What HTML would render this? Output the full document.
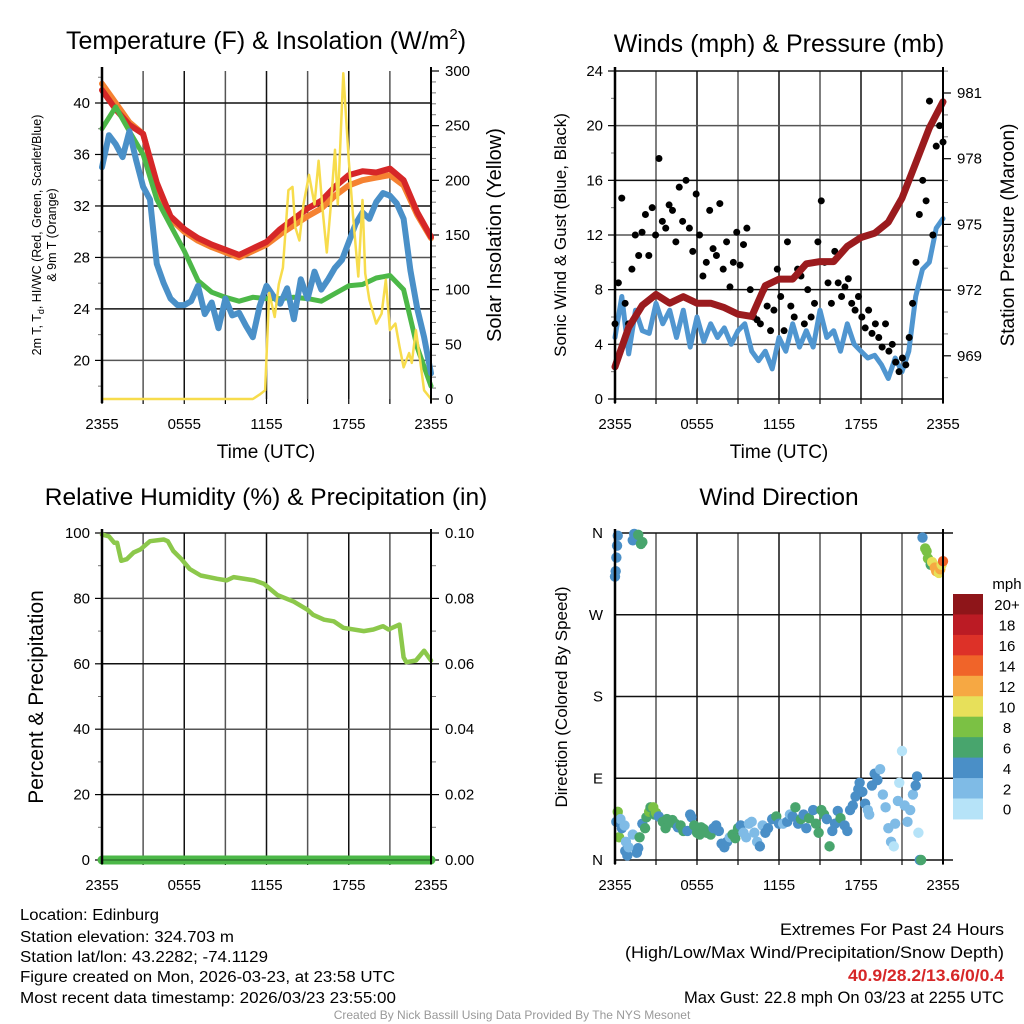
<!DOCTYPE html>
<html><head><meta charset="utf-8">
<style>
html,body{margin:0;padding:0;background:#fff;}
svg{display:block;font-family:"Liberation Sans",Arial,sans-serif;}
</style></head>
<body>
<svg id="fig" width="1024" height="1024" viewBox="0 0 1024 1024" xmlns="http://www.w3.org/2000/svg">
<rect width="1024" height="1024" fill="#fff"/>
<g id="tl"></g>
<g id="tr"></g>
<g id="bl"></g>
<g id="br"></g>

<text x="266" y="49" font-size="25" text-anchor="middle">Temperature (F) &amp; Insolation (W/m<tspan font-size="15" dy="-10">2</tspan><tspan dy="10">)</tspan></text>
<text x="779" y="52" font-size="25" text-anchor="middle">Winds (mph) &amp; Pressure (mb)</text>
<text x="266" y="505" font-size="24.5" text-anchor="middle">Relative Humidity (%) &amp; Precipitation (in)</text>
<text x="779" y="505" font-size="24.5" text-anchor="middle">Wind Direction</text>

<text x="266" y="458" font-size="19" text-anchor="middle">Time (UTC)</text>
<text x="779" y="458" font-size="19" text-anchor="middle">Time (UTC)</text>

<g font-size="12.5" text-anchor="middle">
<text transform="translate(41,235) rotate(-90)">2m T, T<tspan font-size="9" dy="3">d</tspan><tspan dy="-3">, HI/WC (Red, Green, Scarlet/Blue)</tspan></text>
<text transform="translate(56,235) rotate(-90)">&amp; 9m T (Orange)</text>
</g>
<text transform="translate(501,235) rotate(-90)" font-size="20" text-anchor="middle">Solar Insolation (Yellow)</text>
<text transform="translate(566,235) rotate(-90)" font-size="17" text-anchor="middle">Sonic Wind &amp; Gust (Blue, Black)</text>
<text transform="translate(1014,235) rotate(-90)" font-size="19" text-anchor="middle">Station Pressure (Maroon)</text>
<text transform="translate(43,697) rotate(-90)" font-size="21" text-anchor="middle">Percent &amp; Precipitation</text>
<text transform="translate(567,697) rotate(-90)" font-size="17" text-anchor="middle">Direction (Colored By Speed)</text>

<g font-size="15.5">
<text x="20" y="920" textLength="139" lengthAdjust="spacingAndGlyphs">Location: Edinburg</text>
<text x="20" y="942" textLength="214" lengthAdjust="spacingAndGlyphs">Station elevation: 324.703 m</text>
<text x="20" y="962" textLength="248" lengthAdjust="spacingAndGlyphs">Station lat/lon: 43.2282; -74.1129</text>
<text x="20" y="982" textLength="375" lengthAdjust="spacingAndGlyphs">Figure created on Mon, 2026-03-23, at 23:58 UTC</text>
<text x="20" y="1003" textLength="376" lengthAdjust="spacingAndGlyphs">Most recent data timestamp: 2026/03/23 23:55:00</text>
</g>
<g font-size="16.5" text-anchor="end">
<text x="1004" y="935" textLength="224" lengthAdjust="spacingAndGlyphs">Extremes For Past 24 Hours</text>
<text x="1004" y="958" textLength="379" lengthAdjust="spacingAndGlyphs">(High/Low/Max Wind/Precipitation/Snow Depth)</text>
<text x="1004" y="981" fill="#d62728" font-weight="bold" textLength="156" lengthAdjust="spacingAndGlyphs">40.9/28.2/13.6/0/0.4</text>
<text x="1004" y="1003" textLength="320" lengthAdjust="spacingAndGlyphs">Max Gust: 22.8 mph On 03/23 at 2255 UTC</text>
</g>
<text x="512" y="1019" font-size="12" fill="#999" text-anchor="middle">Created By Nick Bassill Using Data Provided By The NYS Mesonet</text>
</svg>
<script>
// ---------- data ----------
const hourTimes=[0,1,2,3,4,5,6,7,8,9,10,11,12,13,14,15,16,17,18,19,20,21,22,23,24];
const tempRed=[41,39.5,38.3,37.6,33.8,31.2,30.2,29.5,29.0,28.6,28.2,28.7,29.2,30.2,31.0,31.8,32.4,33.5,34.4,34.7,34.6,34.9,34.0,31.5,29.6];
const temp9m=[41.5,40.0,38.5,37.6,33.6,31.0,30.0,29.3,28.8,28.4,28.0,28.5,29.0,29.8,30.5,31.2,31.8,32.8,33.6,34.0,34.2,34.4,33.6,31.3,29.5];
const dewGreen=[38,39.7,37.8,36,32.5,30.5,28.5,26.2,25.3,24.9,24.6,24.9,24.8,24.8,24.9,24.8,24.6,25.2,25.8,25.9,26.4,26.6,25.5,21,18];
const halfTimes=[0,0.5,1,1.5,2,2.5,3,3.5,4,4.5,5,5.5,6,6.5,7,7.5,8,8.5,9,9.5,10,10.5,11,11.5,12,12.5,13,13.5,14,14.5,15,15.5,16,16.5,17,17.5,18,18.5,19,19.5,20,20.5,21,21.5,22,22.5,23,23.5,24];
const windChill=[35,37.5,36.8,35.8,37.8,35.5,33.5,32.5,27.5,26,24.8,24.3,24.3,24.6,25.8,23.6,24.5,22.5,24.8,23.5,23.7,22.7,21.8,24.2,25.8,25,24.4,25.6,23.2,26.3,24.8,26.9,25.5,26.3,27.2,27.8,29.2,30.6,31.5,31.0,32.3,33.0,32.8,32.2,31,27,24,21.8,19];
const solarTimes=[0,11.0,11.5,11.9,12.2,12.6,12.9,13.2,13.6,13.9,14.1,14.4,14.7,15.1,15.5,15.8,16.1,16.4,16.7,17.0,17.2,17.6,18.0,18.3,18.7,19.0,19.2,19.5,20.0,20.4,20.7,21.0,21.4,21.7,22.0,22.4,22.6,22.9,23.2,23.5,24];
const solarVals=[0,0,4,8,97,75,105,120,191,194,157,145,178,205,178,218,172,134,178,228,178,298,218,169,112,182,115,91,69,78,109,63,69,48,29,42,33,63,36,8,0];
const sonicWind=[4.5,7.5,3.3,6.5,5,4.8,7.0,5.5,6.5,4.5,6.5,3.8,6.0,4.2,5.5,4.5,5.2,4.0,5.0,5.5,3.5,2.8,3.5,2.2,4.5,3.5,5.5,3.8,5.0,3.8,6.5,4.5,5.0,3.5,5.5,4.0,3.5,3.0,3.2,2.5,1.5,3.0,2.0,3.5,7.5,9.5,10,12.5,13.2];
const gusts=[5.5,8.5,14.7,7,5.5,9.5,12,10.5,12.2,13.5,10.5,14,12,17.6,13,12.5,14.2,13.8,11.5,15.5,13,16,12.5,10.8,15,12,9,10,13.8,11,10.5,14.3,9.5,11.5,8.2,10,12.2,9.8,11.3,12.5,8,6,5.8,5.5,8,6.8,5,6.5,9.5,7.5,5,11.5,6.8,6,9.5,9,5.5,8,6,7,11.5,14.5,10,8.5,7,10.8,8.5,7.5,8.2,8.8,7,6.5,7.5,6,5.2,6.5,4.8,5.5,4.5,3.8,5.5,3.5,4,2.7,2,3,2.5,4.5,7,10,13.5,16,14.5,21.8,12,18.5,20,18.8];
const pressure=[968.5,970.3,971.3,971.8,971.4,971.7,971.4,971.4,971.2,970.9,970.8,972.2,972.5,972.5,973.2,973.3,973.3,974.0,974.4,974.6,975.1,976.2,977.8,979.4,980.6];
const rhTimes=[0,0.5,0.9,1.1,1.4,1.8,2.3,2.8,3.5,4.5,4.8,5.2,5.8,6.4,7.2,8.4,9.1,9.6,11.1,11.8,12.8,14,15,15.4,16.2,16.9,17.6,19.1,19.8,20.5,20.9,21.7,22.0,22.2,22.9,23.5,24];
const rhVals=[99.5,99,97,97,91.5,92,94,95,97.5,98,97.5,94.5,92,89,87,86,85.5,86.5,85.5,84.5,81,79,76.5,75,73.5,73,71,70,70.5,71.5,70.5,72,62,60.5,61,64,61];
const precipVals=[0,0];
const dirTimes=[0.0,0.05,0.1,0.15,0.2,1.3,1.4,1.7,1.9,2.0,0.1,0.2,0.3,0.4,0.5,0.7,0.8,0.75,0.9,1.0,1.3,1.6,1.7,1.8,2.0,2.2,2.3,2.5,2.6,2.8,2.9,3.0,3.2,3.5,3.7,3.8,4.0,4.2,4.4,4.6,4.8,5.0,5.3,5.5,5.6,5.8,6.0,6.2,6.3,6.5,6.7,7.0,7.2,7.4,7.6,7.8,8.0,8.2,8.4,8.6,8.8,9.0,9.2,9.4,9.6,9.8,10.0,10.2,10.4,10.6,10.8,11.0,11.2,11.5,11.8,12.0,12.3,12.6,12.8,13.0,13.2,13.4,13.6,13.8,14.0,14.2,14.5,14.7,14.9,15.1,15.3,15.5,15.7,15.9,16.1,16.3,16.5,16.8,17.0,17.2,17.4,17.6,17.8,17.9,18.1,18.3,18.5,18.6,18.8,19.0,19.2,19.4,19.6,19.8,20.0,20.2,20.4,20.5,20.7,20.8,21.0,21.2,21.4,21.6,21.8,22.0,22.1,22.2,22.3,22.4,22.5,22.7,22.8,22.9,23.1,23.2,23.4,23.5,23.7,23.8,23.9,24.0];
const dirVals=[312,318,333,346,357,352,359,358,348,350,42,53,25,45,35,38,20,10,5,14,28,8,13,25,40,35,47,53,58,58,50,52,48,42,35,45,41,44,40,36,38,32,32,50,47,38,30,28,36,34,30,28,35,38,32,18,14,20,25,28,24,35,38,30,25,40,42,30,20,15,38,30,35,45,48,40,40,42,50,48,58,40,45,50,35,46,55,40,30,55,50,45,15,32,40,54,46,38,32,55,60,70,78,85,75,62,55,50,82,95,88,100,72,58,35,20,15,40,65,85,120,60,42,55,72,82,92,30,0,0,355,343,340,332,325,328,322,318,316,320,325,329];
const dirSpeeds=[4,4,4,4,4,4,4,6,6,6,4,8,8,2,4,2,2,4,4,2,2,4,4,6,4,6,6,8,6,8,6,8,4,6,6,6,6,6,6,4,6,6,4,4,4,6,6,6,6,6,6,6,4,4,4,4,4,4,2,6,6,6,4,2,2,2,2,2,2,4,2,4,4,4,6,4,2,4,2,4,6,4,6,4,4,6,4,6,6,6,6,4,6,4,4,4,6,4,4,4,4,4,4,4,4,4,2,2,4,4,4,2,2,2,2,2,0,2,2,0,0,2,2,2,2,4,4,0,4,6,4,8,8,8,6,10,12,12,10,12,10,14];
const speedBins=[0,2,4,6,8,10,12,14,16,18,20];
const speedLabels=["0","2","4","6","8","10","12","14","16","18","20+"];
const speedColors=["#b6e3f8","#7fbbe6","#4a8fc7","#48a56d","#7bc144","#e7e05a","#f6a843","#f06429","#dd3128","#bb1b24","#8e1519"];
const timeTickLabels=["2355","0555","1155","1755","2355"];

// ---------- helpers ----------
const NS="http://www.w3.org/2000/svg";
function mk(parent,tag,attrs){const e=document.createElementNS(NS,tag);for(const k in attrs)e.setAttribute(k,attrs[k]);parent.appendChild(e);return e;}
function panelFrame(g,x0,y0,w,h){
  for(let i=0;i<=8;i++){const x=x0+w*i/8;
    const l=mk(g,'line',{x1:x,y1:y0,x2:x,y2:y0+h,stroke:(i%2?'#555':'#111'),'stroke-width':1.5});
    
    
    const t=mk(g,'line',{x1:x,y1:y0+h,x2:x,y2:y0+h+5,stroke:'#000','stroke-width':1.2});
    
    
  }
  timeTickLabels.forEach((s,i)=>{const t=mk(g,'text',{x:x0+w*i/4,y:y0+h+30,'font-size':15,'text-anchor':'middle'});t.textContent=s;
    
    });
}
function hgrid(g,x0,x1,y,dark){const l=mk(g,'line',{x1:x0,y1:y,x2:x1,y2:y,stroke:dark?'#111':'#555','stroke-width':1.5});
  
  }
function leftTicks(g,x0,vals,ys,labels,minorYs){
  vals.forEach((v,i)=>{mk(g,'line',{x1:x0-7,y1:ys[i],x2:x0,y2:ys[i],stroke:'#000','stroke-width':1.2});
    const t=mk(g,'text',{x:x0-12,y:ys[i]+5,'font-size':15,'text-anchor':'end'});t.textContent=labels[i];
    
    });
  minorYs.forEach(y=>mk(g,'line',{x1:x0-4,y1:y,x2:x0,y2:y,stroke:'#777','stroke-width':1}));
}
function rightTicks(g,x1,ys,labels,minorYs){
  ys.forEach((y,i)=>{mk(g,'line',{x1:x1,y1:y,x2:x1+8,y2:y,stroke:'#000','stroke-width':1.2});
    const t=mk(g,'text',{x:x1+14,y:y+5,'font-size':15,'text-anchor':'start'});t.textContent=labels[i];
    
    });
  minorYs.forEach(y=>mk(g,'line',{x1:x1,y1:y,x2:x1+5,y2:y,stroke:'#777','stroke-width':1}));
}
function axisBox(g,x0,y0,w,h){mk(g,'line',{x1:x0,y1:y0-4,x2:x0,y2:y0+h+4,stroke:'#000','stroke-width':2.5});
  mk(g,'line',{x1:x0+w,y1:y0-4,x2:x0+w,y2:y0+h+4,stroke:'#000','stroke-width':2});}
function path(g,xs,ys,color,w,name){
  const d=xs.map((x,i)=>(i?'L':'M')+x.toFixed(1)+','+ys[i].toFixed(1)).join('');
  const p=mk(g,'path',{d:d,fill:'none',stroke:color,'stroke-width':w,'stroke-linejoin':'round','stroke-linecap':'round'});
  
  
  return p;}
function colorFor(s){let c=speedColors[0];speedBins.forEach((b,i)=>{if(s>=b)c=speedColors[i];});return c;}

// ---------- TL: temperature ----------
(function(){
  const g=document.getElementById('tl');const X0=102,Y0=71,W=329,H=328;
  const xS=h=>X0+h/24*W; const yT=t=>103+(40-t)*12.87; const yS=v=>Y0+H-v/300*H;
  panelFrame(g,X0,Y0,W,H);
  const tv=[20,24,28,32,36,40];
  tv.forEach((t,i)=>hgrid(g,X0,X0+W,yT(t),i%2==1));
  const minor=[];for(let t=18;t<=42;t+=2)if(t%4)minor.push(yT(t));
  leftTicks(g,X0,tv,tv.map(yT),tv.map(String),minor);
  const sv=[0,50,100,150,200,250,300];const sm=[];for(let v=10;v<300;v+=10)if(v%50)sm.push(yS(v));
  rightTicks(g,X0+W,sv.map(yS),sv.map(String),sm);
  path(g,hourTimes.map(xS),temp9m.map(yT),'#f58231',6,'temp-9m-line');
  path(g,hourTimes.map(xS),tempRed.map(yT),'#d62728',6,'temp-2m-line');
  path(g,hourTimes.map(xS),dewGreen.map(yT),'#4cb848',5,'dewpoint-line');
  path(g,halfTimes.map(xS),windChill.map(yT),'#4a90c8',6,'windchill-line');
  path(g,solarTimes.map(xS),solarVals.map(yS),'#f7dc4c',2.5,'solar-line');
  axisBox(g,X0,Y0,W,H);
})();

// ---------- TR: winds ----------
(function(){
  const g=document.getElementById('tr');const X0=615,Y0=71,W=328,H=328;
  const xS=h=>X0+h/24*W; const yW=v=>Y0+H-v/24*H; const yP=p=>93+(981-p)*21.9;
  panelFrame(g,X0,Y0,W,H);
  const wv=[0,4,8,12,16,20,24];
  wv.forEach((v,i)=>hgrid(g,X0,X0+W,yW(v),i%2==0));
  leftTicks(g,X0,wv,wv.map(yW),wv.map(String),[2,6,10,14,18,22].map(yW));
  const pv=[969,972,975,978,981];const pm=[];for(let p=968;p<=982;p++)if((p-969)%3)pm.push(yP(p));
  rightTicks(g,X0+W,pv.map(yP),pv.map(String),pm.filter(y=>y>=Y0&&y<=Y0+H));
  path(g,halfTimes.map(xS),sonicWind.map(yW),'#5096d0',5,'sonic-wind-line');
  const n=gusts.length;
  gusts.forEach((v,i)=>{const c=mk(g,'circle',{cx:xS(i*24/(n-1)),cy:yW(v),r:3.5,fill:'#000'});
    
    });
  path(g,hourTimes.map(xS),pressure.map(yP),'#9b1b1e',7,'pressure-line');
  axisBox(g,X0,Y0,W,H);
})();

// ---------- BL: humidity ----------
(function(){
  const g=document.getElementById('bl');const X0=102,Y0=533,W=329,H=327;
  const xS=h=>X0+h/24*W; const yR=v=>Y0+H-v/100*H;
  panelFrame(g,X0,Y0,W,H);
  const rv=[0,20,40,60,80,100];
  rv.forEach((v,i)=>hgrid(g,X0,X0+W,yR(v),i%2==1));
  leftTicks(g,X0,rv,rv.map(yR),rv.map(String),[10,30,50,70,90].map(yR));
  rightTicks(g,X0+W,rv.map(yR),["0.00","0.02","0.04","0.06","0.08","0.10"],[10,30,50,70,90].map(yR));
  path(g,[xS(0),xS(24)],precipVals.map(yR),'#4cb848',9,'precipitation-line');
  path(g,[xS(0),xS(24)],precipVals.map(yR),'#2f7a2f',1.5,'precipitation-baseline');
  path(g,rhTimes.map(xS),rhVals.map(yR),'#8cc84b',4.5,'humidity-line');
  axisBox(g,X0,Y0,W,H);
})();

// ---------- BR: wind direction ----------
(function(){
  const g=document.getElementById('br');const X0=615,Y0=533,W=328,H=327;
  const xS=h=>X0+h/24*W; const yD=d=>Y0+H-d/360*H;
  panelFrame(g,X0,Y0,W,H);
  const dv=[0,90,180,270,360];const dl=["N","E","S","W","N"];
  dv.forEach((v,i)=>hgrid(g,X0,X0+W+10,yD(v),true));
  dv.forEach((v,i)=>{const t=mk(g,'text',{x:X0-12,y:yD(v)+5,'font-size':15,'text-anchor':'end'});t.textContent=dl[i];
    
    });
  dirTimes.forEach((h,i)=>{const c=mk(g,'circle',{cx:xS(h),cy:yD(dirVals[i]),r:5.2,fill:colorFor(dirSpeeds[i])});
    
    });
  axisBox(g,X0,Y0,W,H);
  // colorbar
  const cbX=953,cbTop=594,cbH=20.45;
  const lg=mk(g,'g',{});
  
  
  const mt=mk(lg,'text',{x:1007,y:589,'font-size':15,'text-anchor':'middle'});mt.textContent='mph';
  for(let k=0;k<speedColors.length;k++){const idx=speedColors.length-1-k;const y=cbTop+k*cbH;
    const r=mk(lg,'rect',{x:cbX,y:y,width:30,height:cbH+0.5,fill:speedColors[idx]});
    
    
    const t=mk(lg,'text',{x:1007,y:y+cbH/2+6,'font-size':15,'text-anchor':'middle'});t.textContent=speedLabels[idx];
    
    }
})();
</script>
</body></html>
